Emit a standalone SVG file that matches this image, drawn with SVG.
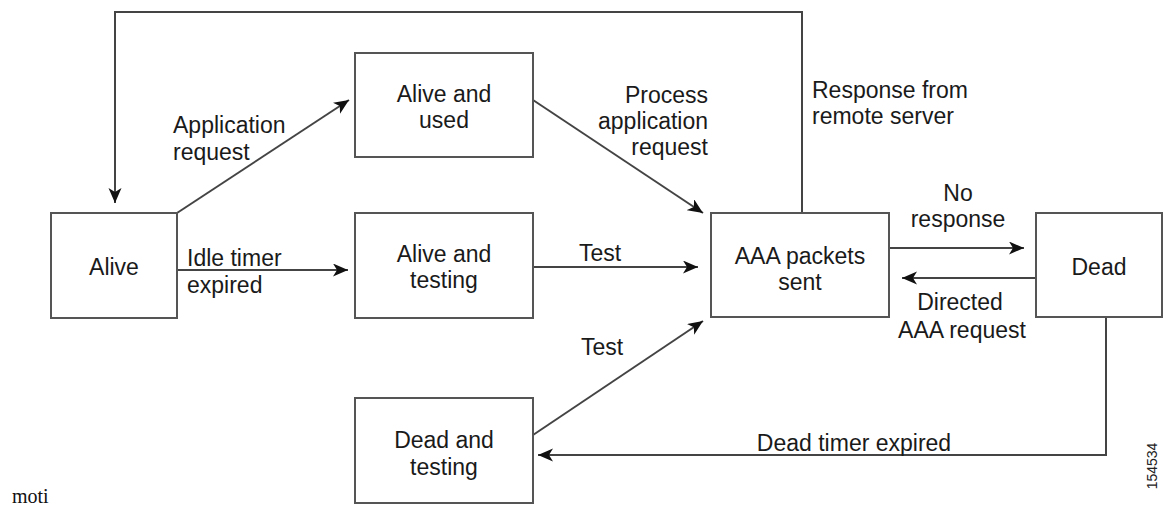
<svg xmlns="http://www.w3.org/2000/svg" width="1165" height="508" viewBox="0 0 1165 508">
<style>
.box{fill:#fff;stroke:#555;stroke-width:2}
.t{font-family:"Liberation Sans",Arial,sans-serif;font-size:23px;fill:#1a1a1a}
.m{text-anchor:middle}
.e{text-anchor:end}
.c{fill:none;stroke:#444;stroke-width:2}
.a{marker-end:url(#ah)}
</style>
<defs>
<marker id="ah" markerUnits="userSpaceOnUse" markerWidth="16" markerHeight="14" refX="15" refY="6.5" orient="auto">
<path d="M0,0 L15,6.5 L0,13 L4,6.5 z" fill="#111"/>
</marker>
</defs>
<g id="connectors">
<polyline class="c a" points="802,213 802,12 115,12 115,203"/>
<line class="c a" x1="177" y1="213" x2="349" y2="100"/>
<line class="c a" x1="177" y1="270" x2="348" y2="270"/>
<line class="c a" x1="533" y1="100" x2="703" y2="213"/>
<line class="c a" x1="533" y1="267" x2="698" y2="267"/>
<line class="c a" x1="533" y1="435" x2="703" y2="321"/>
<line class="c a" x1="889" y1="248" x2="1024" y2="248"/>
<line class="c a" x1="1036" y1="278" x2="902" y2="278"/>
<polyline class="c a" points="1106,318 1106,455 538,455"/>
<g id="connector-labels">
<text class="t" x="173" y="133">Application</text>
<text class="t" x="173" y="160">request</text>
<text class="t" x="187" y="266">Idle timer</text>
<text class="t" x="187" y="293">expired</text>
<text class="t e" x="708" y="103">Process</text>
<text class="t e" x="708" y="129">application</text>
<text class="t e" x="708" y="155">request</text>
<text class="t" x="812" y="98">Response from</text>
<text class="t" x="812" y="124">remote server</text>
<text class="t m" x="600" y="261">Test</text>
<text class="t m" x="602" y="355">Test</text>
<text class="t m" x="958" y="201">No</text>
<text class="t m" x="958" y="227">response</text>
<text class="t m" x="960" y="310">Directed</text>
<text class="t m" x="962" y="338">AAA request</text>
<text class="t m" x="854" y="451">Dead timer expired</text>
</g>
</g>
<g id="alive">
<rect class="box" x="51" y="213" width="126" height="105"/>
<text class="t m" x="114" y="275">Alive</text>
</g>
<g id="alive-used">
<rect class="box" x="355" y="53" width="178" height="104"/>
<text class="t m" x="444" y="102">Alive and</text>
<text class="t m" x="444" y="128">used</text>
</g>
<g id="alive-testing">
<rect class="box" x="355" y="213" width="178" height="105"/>
<text class="t m" x="444" y="262">Alive and</text>
<text class="t m" x="444" y="288">testing</text>
</g>
<g id="aaa-sent">
<rect class="box" x="711" y="213" width="178" height="104"/>
<text class="t m" x="800" y="264">AAA packets</text>
<text class="t m" x="800" y="290">sent</text>
</g>
<g id="dead">
<rect class="box" x="1036" y="213" width="126" height="104"/>
<text class="t m" x="1099" y="275">Dead</text>
</g>
<g id="dead-testing">
<rect class="box" x="355" y="398" width="178" height="105"/>
<text class="t m" x="444" y="448">Dead and</text>
<text class="t m" x="444" y="475">testing</text>
</g>
<text x="0" y="0" transform="translate(1157,466) rotate(-90)" text-anchor="middle" font-family="Liberation Sans, Arial, sans-serif" font-size="14" fill="#222">154534</text>
<text x="12" y="503" font-family="Liberation Serif, Times New Roman, serif" font-size="20" fill="#111">moti</text>
</svg>
